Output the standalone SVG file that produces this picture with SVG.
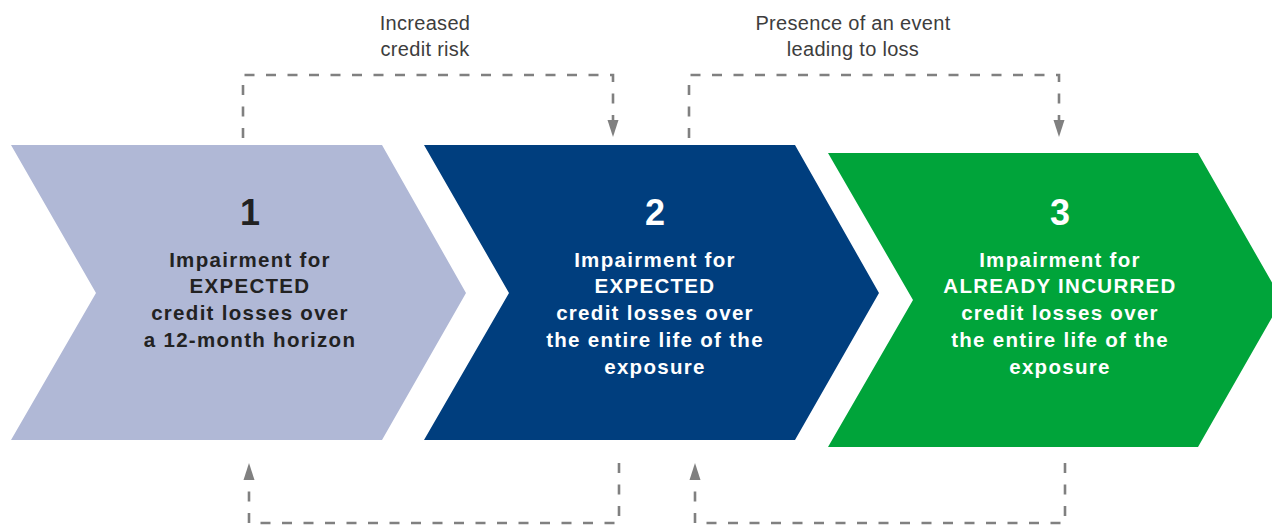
<svg xmlns="http://www.w3.org/2000/svg" width="1272" height="525" viewBox="0 0 1272 525">
<style>
.lbl{font-family:"Liberation Sans",Arial,sans-serif;font-size:20px;fill:#3d3d3d;text-anchor:middle;letter-spacing:0.3px}
.num{font-family:"Liberation Sans",Arial,sans-serif;font-size:36px;font-weight:bold;text-anchor:middle}
.txt{font-family:"Liberation Sans",Arial,sans-serif;font-size:20.5px;font-weight:bold;text-anchor:middle;letter-spacing:1.3px}
.dk{fill:#222222}
.wt{fill:#ffffff}
.conn{fill:none;stroke:#808080;stroke-width:2.6;stroke-dasharray:10 11.5}
</style>
<defs>
<marker id="ah" markerUnits="userSpaceOnUse" markerWidth="18" markerHeight="12" refX="0" refY="6" orient="auto">
<path d="M0,0.5 L17,6 L0,11.5 Z" fill="#808080"/>
</marker>
</defs>
<rect width="1272" height="525" fill="#ffffff"/>
<g id="stage1">
<polygon points="11,145 382,145 466,293 382,440 11,440 96,293" fill="#b0b8d6"/>
<text class="num dk" x="250" y="225">1</text>
<text class="txt dk" x="250" y="267">Impairment for</text>
<text class="txt dk" x="250" y="293">EXPECTED</text>
<text class="txt dk" x="250" y="320">credit losses over</text>
<text class="txt dk" x="250" y="347">a 12-month horizon</text>
</g>
<g id="stage2">
<polygon points="424,145 795,145 879,293 795,440 424,440 509,293" fill="#003e7e"/>
<text class="num wt" x="655" y="225">2</text>
<text class="txt wt" x="655" y="267">Impairment for</text>
<text class="txt wt" x="655" y="293">EXPECTED</text>
<text class="txt wt" x="655" y="320">credit losses over</text>
<text class="txt wt" x="655" y="347">the entire life of the</text>
<text class="txt wt" x="655" y="374">exposure</text>
</g>
<g id="stage3">
<polygon points="828,153 1198,153 1282,300 1198,447 828,447 913,300" fill="#00a43a"/>
<text class="num wt" x="1060" y="225">3</text>
<text class="txt wt" x="1060" y="267">Impairment for</text>
<text class="txt wt" x="1060" y="293">ALREADY INCURRED</text>
<text class="txt wt" x="1060" y="320">credit losses over</text>
<text class="txt wt" x="1060" y="347">the entire life of the</text>
<text class="txt wt" x="1060" y="374">exposure</text>
</g>
<g id="labels">
<text class="lbl" x="425" y="30">Increased</text>
<text class="lbl" x="425" y="56">credit risk</text>
<text class="lbl" x="853" y="30">Presence of an event</text>
<text class="lbl" x="853" y="56">leading to loss</text>
</g>
<g id="connectors">
<path class="conn" d="M243,138 V75 H613 V120" marker-end="url(#ah)"/>
<path class="conn" d="M689,138 V75 H1059 V120" marker-end="url(#ah)"/>
<path class="conn" d="M619,463 V523 H249 V480" marker-end="url(#ah)"/>
<path class="conn" d="M1065,463 V523 H695 V480" marker-end="url(#ah)"/>
</g>
</svg>
